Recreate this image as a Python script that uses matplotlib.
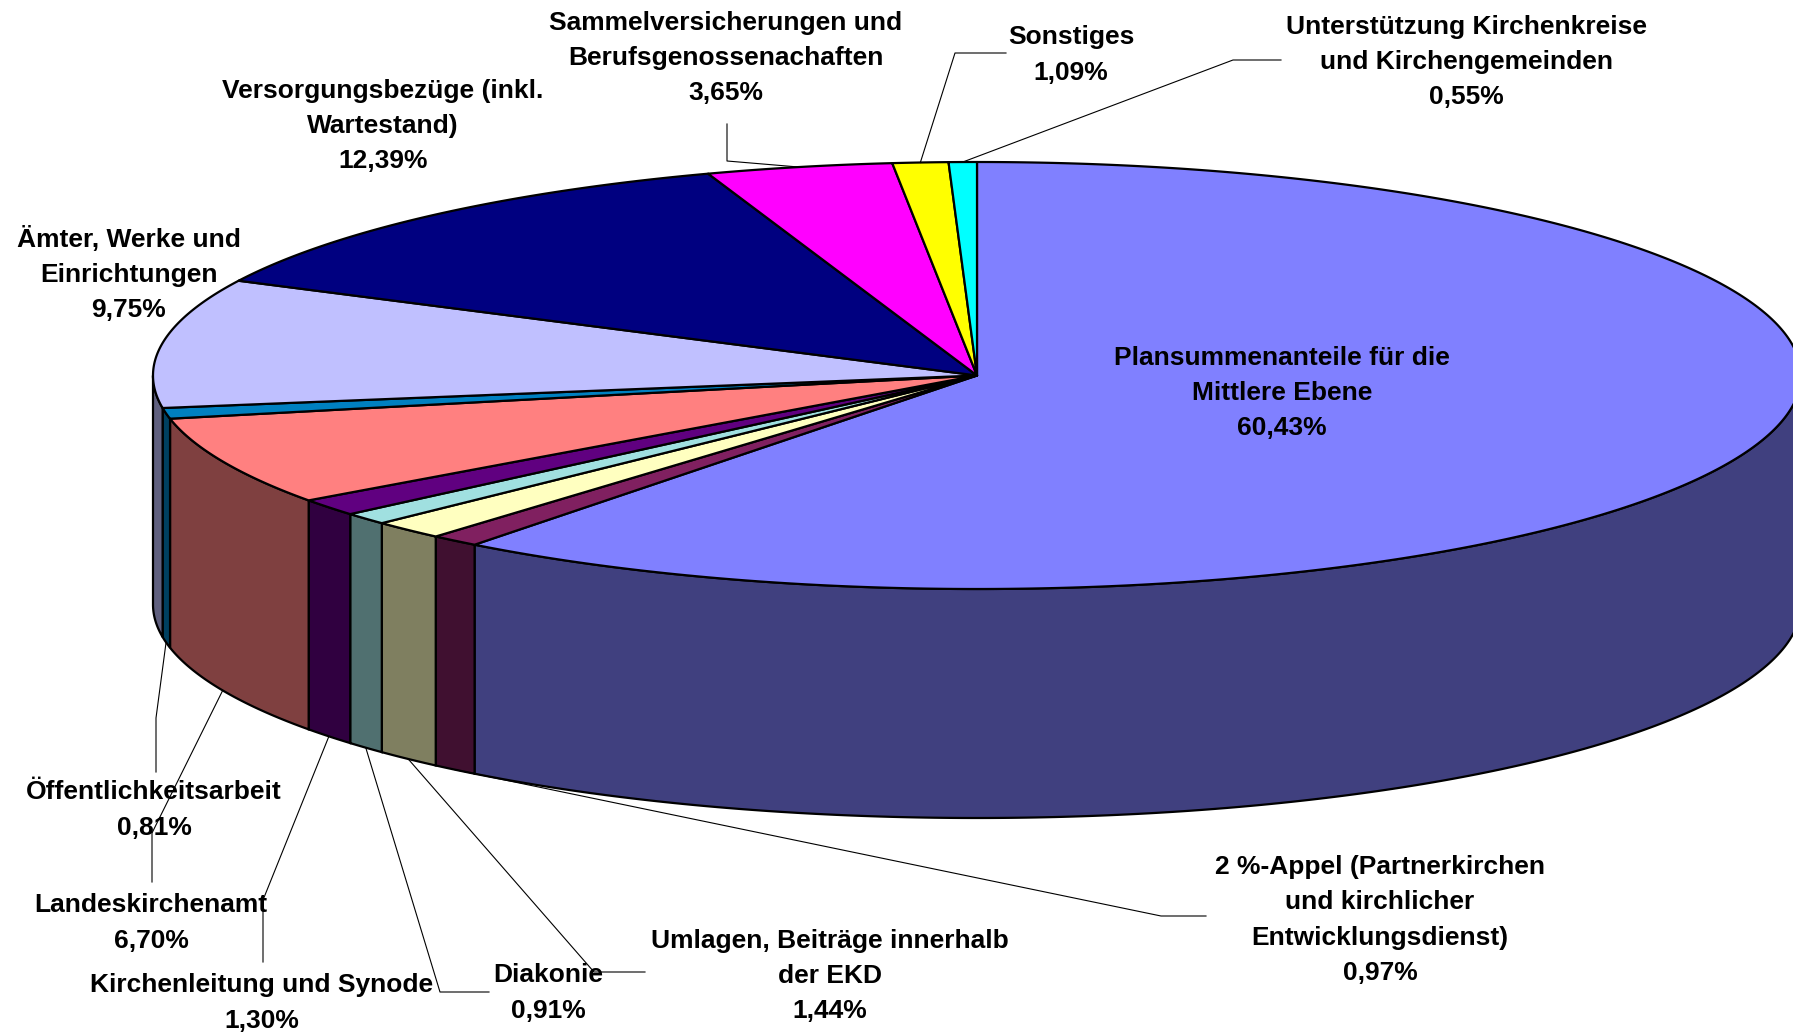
import numpy as np
import matplotlib.pyplot as plt
from matplotlib.patches import Polygon

# data, clockwise from 12 o'clock
names = ['Plansummenanteile für die\nMittlere Ebene',
         '2 %-Appel (Partnerkirchen\nund kirchlicher\nEntwicklungsdienst)',
         'Umlagen, Beiträge innerhalb\nder EKD',
         'Diakonie',
         'Kirchenleitung und Synode',
         'Landeskirchenamt',
         'Öffentlichkeitsarbeit',
         'Ämter, Werke und\nEinrichtungen',
         'Versorgungsbezüge (inkl.\nWartestand)',
         'Sammelversicherungen und\nBerufsgenossenachaften',
         'Sonstiges',
         'Unterstützung Kirchenkreise\nund Kirchengemeinden']
values = [60.43, 0.97, 1.44, 0.91, 1.30, 6.70, 0.81, 9.75, 12.39, 3.65, 1.09, 0.55]
colors = ['#8080FF', '#802060', '#FFFFC0', '#A0E0E0', '#600080', '#FF8080',
          '#0080C0', '#C0C0FF', '#000080', '#FF00FF', '#FFFF00', '#00FFFF']

# layout (pixel coords of the 1793x1032 image)
cx, cy, a, b, depth = 977, 375.5, 824, 213.5, 229
label_pos = [(1282, 393), (1380, 920), (830, 976), (548, 993), (262, 1003),
             (151, 923), (154, 810), (129, 274), (383, 126), (726, 58),
             (1071, 55), (1466, 62)]
# leader line bends after the anchor point on the rim (None = no line)
leaders = [None,
           [(1161, 916), (1206, 916)],
           [(594, 972), (645, 972)],
           [(440, 992), (489, 992)],
           [(263, 900), (263, 962)],
           [(152, 833), (152, 882)],
           [(156, 718), (156, 772)],
           None, None,
           [(727, 161), (727, 124)],
           [(955, 53), (1006, 53)],
           [(1233, 60), (1281, 60)]]


def darker(c):
    r, g, bb = [int(c[i:i + 2], 16) for i in (1, 3, 5)]
    return '#%02X%02X%02X' % (r // 2, g // 2, bb // 2)


def rim(t, dy=0.0):
    t = np.radians(t)
    return np.column_stack([cx + a * np.cos(t), cy - b * np.sin(t) + dy])


fig = plt.figure(figsize=(17.93, 10.32), dpi=100)
ax = fig.add_axes([0, 0, 1, 1])
ax.set_xlim(0, 1793)
ax.set_ylim(1032, 0)
ax.axis('off')

vals = np.array(values)
cum = np.concatenate([[0], np.cumsum(vals)]) / vals.sum()
starts = 90 - 360 * cum[:-1]
ends = 90 - 360 * cum[1:]
mids = (starts + ends) / 2

# side walls (front half only: angles between -180 and 0)
for s, e, c in zip(starts, ends, colors):
    hi, lo = min(s, 0), max(e, -180)
    if hi <= lo:
        continue
    t = np.linspace(hi, lo, 200)
    pts = np.vstack([rim(t), rim(t[::-1], depth)])
    ax.add_patch(Polygon(pts, closed=True, fc=darker(c), ec='black', lw=1.6, zorder=1))

# top faces
for s, e, c in zip(starts, ends, colors):
    t = np.linspace(s, e, 400)
    pts = np.vstack([[cx, cy], rim(t)])
    ax.add_patch(Polygon(pts, closed=True, fc=c, ec='black', lw=1.6, zorder=2,
                         joinstyle='round'))

# labels and leader lines
for n, v, m, pos, ld in zip(names, values, mids, label_pos, leaders):
    txt = n + '\n' + f'{v:.2f}'.replace('.', ',') + '%'
    ax.text(pos[0], pos[1], txt, ha='center', va='center', multialignment='center',
            fontsize=19, fontweight='bold', family='Liberation Sans',
            linespacing=1.6, zorder=4)
    if ld is None:
        continue
    front = np.sin(np.radians(m)) < 0
    p0 = rim(np.array([m]), depth if front else 0)[0]
    xs = [p0[0]] + [p[0] for p in ld]
    ys = [p0[1]] + [p[1] for p in ld]
    ax.plot(xs, ys, color='black', lw=0.8, zorder=3)

fig.savefig('out.png', dpi=100)
